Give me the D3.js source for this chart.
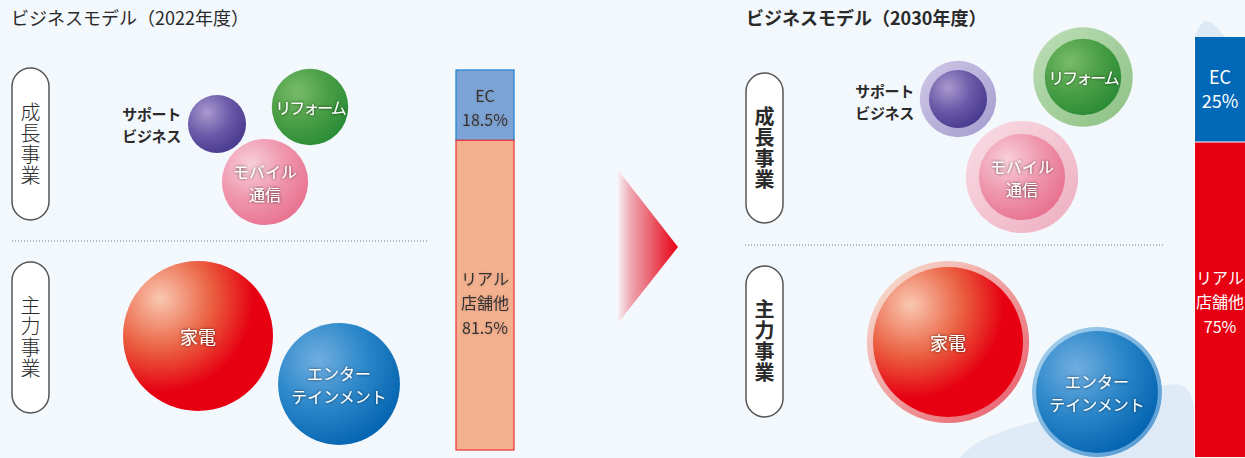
<!DOCTYPE html>
<html>
<head>
<meta charset="utf-8">
<script src="https://d3js.org/d3.v7.min.js"></script>
<style>
  html, body { margin: 0; padding: 0; background: #f3f8fd; }
  svg { display: block; }
  text { font-family: "Noto Sans CJK JP", "Noto Sans", sans-serif; }
</style>
</head>
<body>
<svg id="chart" width="1245" height="458"></svg>
<script>
// ---- data ----
const years = ["2022", "2030"];
const segments = ["成長事業", "主力事業"];
const businesses = ["サポートビジネス", "リフォーム", "モバイル通信", "家電", "エンターテインメント"];
const businessLines = [["サポート", "ビジネス"], ["リフォーム"], ["モバイル", "通信"], ["家電"], ["エンター", "テインメント"]];
const businessSize2022 = [15, 26, 33, 100, 66];
const businessSize2030 = [26, 44, 56, 117, 75];
const channels = ["EC", "リアル店舗他"];
const channelLines = [["EC"], ["リアル", "店舗他"]];
const share2022 = [18.5, 81.5];
const share2030 = [25, 75];

// ---- layout (positions, not data) ----
const panels = [
  { title: "ビジネスモデル（" + years[0] + "年度）", titleX: 11, bold: false,
    pillX: 12, pills: [[68, 220], [262, 413]], divY: 241, divX: [12, 428],
    barX: 456, barW: 58, barY: [70, 450], shares: share2022, sizes: businessSize2022, rings: false,
    centers: [[217, 124], [310, 107], [265, 182], [198, 336], [339, 384]], sideLabel: [181, 124] },
  { title: "ビジネスモデル（" + years[1] + "年度）", titleX: 746, bold: true,
    pillX: 746, pills: [[73, 223], [266, 417]], divY: 245, divX: [745, 1163],
    barX: 1195, barW: 60, barY: [37, 457], shares: share2030, sizes: businessSize2030, rings: true,
    centers: [[958, 99], [1083, 77], [1022, 177], [948, 342], [1097, 392]], sideLabel: [914, 101] }
];

const innerSize = businessSize2022; // core sphere keeps its 2022 size
const rScale = d3.scaleSqrt().domain([0, 100]).range([0, 75]);

const bubbleColors = [
  ["#a899cf", "#6b5aa8", "#43358b"],
  ["#78bb69", "#4b9f46", "#268a34"],
  ["#f8cfdb", "#ef97ae", "#e76d8c"],
  ["#f9c8b1", "#ea5e3f", "#e60012"],
  ["#70aee0", "#2a86c9", "#0060ad"]
];
const ringColors = [
  ["#c9c2e3", "#aaa2d1"],
  ["#b7dab0", "#93c58b"],
  ["#f7d6e0", "#efb4c5"],
  ["#f5d2c6", "#ea6b77"],
  ["#9ccaea", "#5d9fd5"]
];

const svg = d3.select("#chart");
const defs = svg.append("defs");

svg.append("rect").attr("width", 1245).attr("height", 458).attr("fill", "#f3f8fd");

// gradients
bubbleColors.forEach((c, i) => {
  const g = defs.append("radialGradient").attr("id", "bub" + i)
    .attr("cx", i === 3 ? 0.25 : 0.33).attr("cy", i === 3 ? 0.25 : 0.3)
    .attr("fx", i === 3 ? 0.25 : 0.33).attr("fy", i === 3 ? 0.25 : 0.3)
    .attr("r", i === 3 ? 0.78 : 0.8);
  g.append("stop").attr("offset", 0).attr("stop-color", c[0]);
  g.append("stop").attr("offset", i === 3 ? 0.45 : 0.5).attr("stop-color", c[1]);
  g.append("stop").attr("offset", i === 3 ? 0.8 : 1).attr("stop-color", c[2]);
});
ringColors.forEach((c, i) => {
  const g = defs.append("linearGradient").attr("id", "ring" + i)
    .attr("x1", 0.15).attr("y1", 0.15).attr("x2", 0.85).attr("y2", 0.85);
  g.append("stop").attr("offset", 0).attr("stop-color", c[0]);
  g.append("stop").attr("offset", 1).attr("stop-color", c[1]);
});
const arrowGrad = defs.append("linearGradient").attr("id", "arrowGrad")
  .attr("gradientUnits", "userSpaceOnUse").attr("x1", 618).attr("x2", 678).attr("y1", 0).attr("y2", 0);
arrowGrad.append("stop").attr("offset", 0).attr("stop-color", "#f6f0f3");
arrowGrad.append("stop").attr("offset", 0.2).attr("stop-color", "#efaab5");
arrowGrad.append("stop").attr("offset", 1).attr("stop-color", "#e60012");

function glow(id, color, op, dev) {
  const f = defs.append("filter").attr("id", id).attr("x", "-20%").attr("y", "-40%").attr("width", "140%").attr("height", "180%");
  f.append("feGaussianBlur").attr("in", "SourceAlpha").attr("stdDeviation", dev).attr("result", "b");
  f.append("feFlood").attr("flood-color", color).attr("flood-opacity", op);
  f.append("feComposite").attr("in2", "b").attr("operator", "in").attr("result", "s");
  const m = f.append("feMerge");
  m.append("feMergeNode").attr("in", "s");
  m.append("feMergeNode").attr("in", "SourceGraphic");
}
glow("darkGlow", "#000", 0.7, 1.6);
glow("softGlow", "#6a4a40", 0.35, 1.4);

// multi-line label as one text element
function multiline(sel, x, yMid, lines, gap) {
  const t = sel.append("text").attr("x", x).attr("y", yMid - (lines.length - 1) / 2 * gap)
    .attr("dominant-baseline", "central");
  lines.forEach((ln, li) => {
    t.append("tspan").attr("x", x).attr("dy", li === 0 ? 0 : gap).text(ln);
  });
  return t;
}

// decorative background wash on the right
const wash = d3.line().curve(d3.curveBasis);
svg.append("path")
  .attr("d", wash([[960, 458], [975, 442], [1010, 428], [1040, 421], [1080, 406], [1120, 400], [1160, 385], [1196, 380], [1196, 458]]) + "Z")
  .attr("fill", "#dbe9f5").attr("opacity", 0.9);
svg.append("path")
  .attr("d", wash([[1194, 38], [1198, 28], [1205, 19], [1214, 24], [1226, 38]]) + "Z")
  .attr("fill", "#dceaf5");

// arrow
svg.append("path")
  .attr("d", d3.line()([[618, 170], [678, 247], [618, 323]]) + "Z")
  .attr("fill", "url(#arrowGrad)");

panels.forEach((p, pi) => {
  const g = svg.append("g");

  g.append("text").attr("x", p.titleX).attr("y", 25)
    .attr("font-size", 18).attr("font-weight", p.bold ? 700 : 400)
    .attr("fill", "#2a2a2a").text(p.title);

  // segment pills
  segments.forEach((s, si) => {
    const [y0, y1] = p.pills[si];
    g.append("rect").attr("x", p.pillX).attr("y", y0).attr("width", 37).attr("height", y1 - y0)
      .attr("rx", 18.5).attr("fill", "#fff").attr("stroke", "#555").attr("stroke-width", 1.5);
    g.append("text").attr("x", p.pillX + 18.5).attr("y", (y0 + y1) / 2)
      .attr("text-anchor", "middle").style("writing-mode", "vertical-rl")
      .attr("font-size", 20).attr("letter-spacing", 1).attr("font-weight", p.bold ? 700 : 300)
      .attr("fill", "#2a2a2a").text(s);
  });

  g.append("line").attr("x1", p.divX[0]).attr("x2", p.divX[1]).attr("y1", p.divY).attr("y2", p.divY)
    .attr("stroke", "#777").attr("stroke-width", 1).attr("stroke-dasharray", "1,2");

  // bubbles
  businesses.forEach((b, bi) => {
    const [cx, cy] = p.centers[bi];
    if (p.rings) {
      g.append("circle").attr("cx", cx).attr("cy", cy).attr("r", rScale(p.sizes[bi]))
        .attr("fill", "url(#ring" + bi + ")");
    }
    g.append("circle").attr("cx", cx).attr("cy", cy).attr("r", rScale(innerSize[bi]))
      .attr("fill", "url(#bub" + bi + ")");
    if (bi === 0) {
      multiline(g, p.sideLabel[0], p.sideLabel[1], businessLines[bi], 22)
        .attr("text-anchor", "end").attr("font-size", 15).attr("font-weight", 700)
        .attr("letter-spacing", -0.3).attr("fill", "#2a2a2a");
    } else {
      multiline(g, cx, cy, businessLines[bi], 23)
        .attr("text-anchor", "middle")
        .attr("font-size", bi === 3 ? 18 : 16).attr("letter-spacing", bi === 1 ? -2 : 0)
        .attr("fill", "#fff").attr("filter", "url(#darkGlow)");
    }
  });

  // channel share bar
  const y = d3.scaleLinear().domain([0, 100]).range(p.barY);
  const stack = d3.cumsum(p.shares);
  const fills = pi === 0 ? ["#7ca4d6", "#f4b18f"] : ["#0068b7", "#e60012"];
  const strokes = pi === 0 ? ["#2a84d2", "#ec3c47"] : ["#0068b7", "#e60012"];
  channels.forEach((c, ci) => {
    const y0 = y(ci === 0 ? 0 : stack[ci - 1]);
    const y1 = y(stack[ci]);
    g.append("rect").attr("x", p.barX).attr("y", y0).attr("width", p.barW).attr("height", y1 - y0)
      .attr("fill", fills[ci]).attr("stroke", strokes[ci]).attr("stroke-width", pi === 0 ? 1.3 : 0);
    const lines = channelLines[ci].concat([d3.format(".3~f")(p.shares[ci]) + "%"]);
    const mid = ci === 0 ? (y0 + y1) / 2 + (pi === 0 ? 2 : -2) : (pi === 0 ? 302 : 301);
    const tx = pi === 0 ? p.barX + p.barW / 2 : 1220;
    multiline(g, tx, mid, lines, ci === 0 ? 24 : 24.5)
      .attr("text-anchor", "middle")
      .attr("font-size", pi === 1 && ci === 0 ? 18 : 16)
      .attr("fill", pi === 0 ? "#333" : "#fff")
      .attr("filter", pi === 0 ? "url(#softGlow)" : null);
  });
  if (pi === 1) {
    g.append("line").attr("x1", p.barX).attr("x2", 1245).attr("y1", y(stack[0])).attr("y2", y(stack[0]))
      .attr("stroke", "#fff").attr("stroke-width", 1.2);
    g.append("line").attr("x1", p.barX - 0.5).attr("x2", p.barX - 0.5).attr("y1", p.barY[0]).attr("y2", 458)
      .attr("stroke", "#fff").attr("stroke-width", 1);
  }
});
</script>
</body>
</html>
